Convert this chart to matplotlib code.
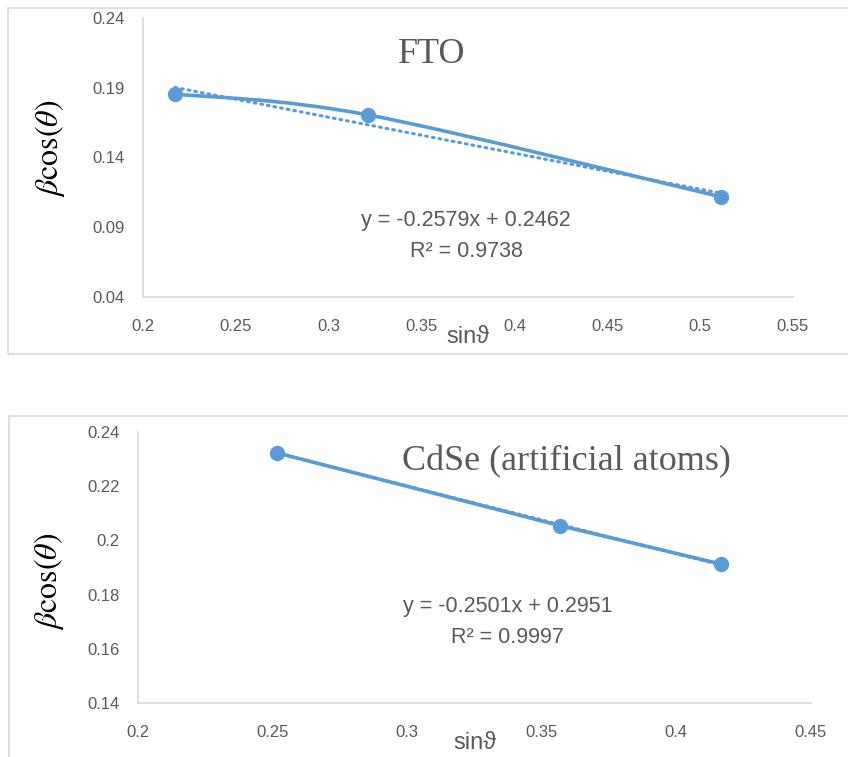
import numpy as np
import matplotlib.pyplot as plt
from matplotlib.path import Path
from matplotlib.patches import PathPatch, Rectangle

# data
fto_x = [0.2172, 0.3212, 0.5115]
fto_y = [0.1855, 0.1705, 0.1117]
fto_fit = (-0.2579, 0.2462)
fto_eq = ["y = -0.2579x + 0.2462", "R² = 0.9738"]

cdse_x = [0.2517, 0.3566, 0.4165]
cdse_y = [0.2323, 0.2055, 0.1913]
cdse_fit = (-0.2501, 0.2951)
cdse_eq = ["y = -0.2501x + 0.2951", "R² = 0.9997"]

fto_xticks = [0.2, 0.25, 0.3, 0.35, 0.4, 0.45, 0.5, 0.55]
fto_yticks = [0.04, 0.09, 0.14, 0.19, 0.24]
cdse_xticks = [0.2, 0.25, 0.3, 0.35, 0.4, 0.45]
cdse_yticks = [0.14, 0.16, 0.18, 0.2, 0.22, 0.24]

BLUE = '#5B9BD5'
GREY = '#595959'
SANS = ['Liberation Sans', 'DejaVu Sans']

plt.rcParams['mathtext.fontset'] = 'stix'


def smooth_path(xs, ys):
    """Excel-like smoothed line as cubic bezier segments."""
    pts = np.column_stack([xs, ys])
    ext = np.vstack([pts[0], pts, pts[-1]])
    verts = [pts[0]]
    codes = [Path.MOVETO]
    for i in range(len(pts) - 1):
        p0, p1, p2, p3 = ext[i], ext[i + 1], ext[i + 2], ext[i + 3]
        verts += [p1 + (p2 - p0) / 6, p2 - (p3 - p1) / 6, p2]
        codes += [Path.CURVE4] * 3
    return Path(verts, codes)


def fmt(v):
    return ('%.2f' % v).rstrip('0')


def panel(rect, xs, ys, fit, eq, title, xticks, yticks, title_pos, eq_pos, ylab_pos, smooth):
    ax = fig.add_axes(rect)
    ax.set_xlim(xticks[0], xticks[-1])
    ax.set_ylim(yticks[0], yticks[-1])
    ax.set_xticks(xticks)
    ax.set_yticks(yticks)
    ax.set_xticklabels([fmt(v) for v in xticks])
    ax.set_yticklabels([fmt(v) for v in yticks])
    ax.tick_params(length=0, labelsize=12, labelcolor=GREY)
    ax.tick_params(axis='x', pad=16)
    ax.tick_params(axis='y', pad=13)
    for lab in ax.get_xticklabels() + ax.get_yticklabels():
        lab.set_family(SANS)
    for s in ['top', 'right']:
        ax.spines[s].set_visible(False)
    for s in ['left', 'bottom']:
        ax.spines[s].set_color('#d9d9d9')
        ax.spines[s].set_linewidth(1.2)

    # linear trendline (dotted)
    tx = np.array([xs[0], xs[-1]])
    ax.plot(tx, fit[0] * tx + fit[1], color=BLUE, lw=2.2, ls=(0, (0.6, 1.6)),
            dash_capstyle='round', zorder=2)
    if smooth:
        ax.add_patch(PathPatch(smooth_path(xs, ys), fc='none', ec=BLUE, lw=2.6, zorder=3))
    else:
        ax.plot(xs, ys, color=BLUE, lw=2.6, zorder=3)
    ax.plot(xs, ys, 'o', color=BLUE, ms=10, zorder=4)

    ax.text(title_pos[0], title_pos[1], title, transform=ax.transAxes, ha='center',
            va='center', fontsize=26, family='Liberation Serif', color=GREY)
    ax.text(eq_pos[0], eq_pos[1], eq[0] + '\n' + eq[1], transform=ax.transAxes,
            ha='center', va='center', fontsize=15.5, family=SANS, color=GREY,
            linespacing=1.6)
    ax.text(ylab_pos[0], ylab_pos[1], r'$\beta\mathrm{cos}(\theta)$', transform=ax.transAxes,
            rotation=90, ha='center', va='center', fontsize=23, color='black')
    ax.set_xlabel('sinϑ', fontsize=17, family=SANS, color=GREY, labelpad=-6)
    return ax


fig = plt.figure(figsize=(8.48, 7.57), dpi=100)

# chart frames
fig.patches.append(Rectangle((8 / 848, 1 - 354 / 757), 1, 346 / 757, transform=fig.transFigure,
                             fc='none', ec='#d9d9d9', lw=1.2))
fig.patches.append(Rectangle((9 / 848, -0.1), 1, 0.1 + 1 - 416 / 757, transform=fig.transFigure,
                             fc='none', ec='#d9d9d9', lw=1.2))

panel([0.1686, 0.6077, 0.7665, 0.3686], fto_x, fto_y, fto_fit, fto_eq, 'FTO',
      fto_xticks, fto_yticks, (0.445, 0.87), (0.497, 0.219), (-0.143, 0.534), True)
panel([0.1627, 0.0713, 0.7936, 0.358], cdse_x, cdse_y, cdse_fit, cdse_eq, 'CdSe (artificial atoms)',
      cdse_xticks, cdse_yticks, (0.636, 0.89), (0.549, 0.299), (-0.132, 0.45), False)

fig.savefig('out.png', dpi=100)
